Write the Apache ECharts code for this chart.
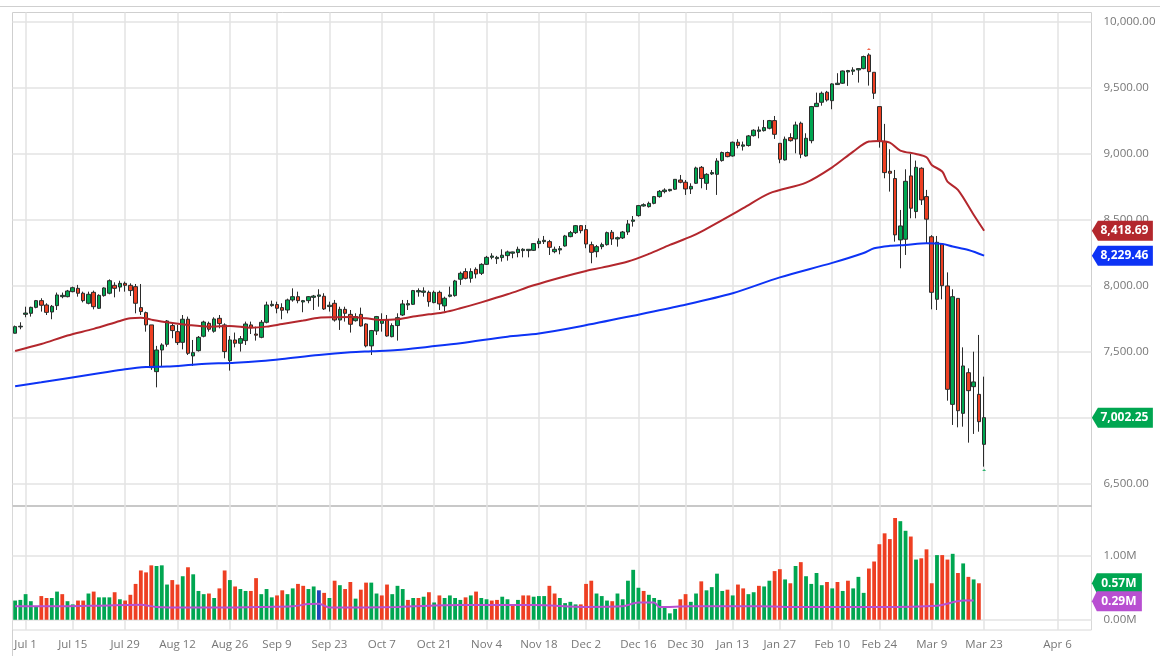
<!DOCTYPE html>
<html>
<head>
<meta charset="utf-8">
<style>html,body{margin:0;padding:0;background:#fff}#container{width:1160px;height:664px}</style>
<script src="https://cdn.jsdelivr.net/npm/echarts@6/dist/echarts.min.js"></script>
</head>
<body>
<div id="container"></div>
<script>
var tickLabels = ["Jul 1", "Jul 15", "Jul 29", "Aug 12", "Aug 26", "Sep 9", "Sep 23", "Oct 7", "Oct 21", "Nov 4", "Nov 18", "Dec 2", "Dec 16", "Dec 30", "Jan 13", "Jan 27", "Feb 10", "Feb 24", "Mar 9", "Mar 23", "Apr 6"];
var holidays = ["2019-07-04", "2019-09-02", "2019-11-28", "2019-12-25", "2020-01-01", "2020-01-20", "2020-02-17"];
var priceTicks = [6500, 7000, 7500, 8000, 8500, 9000, 9500, 10000];
var volumeTicks = [0, 1];

var candleOpen = [
  7642, 7690, 7785, 7793, 7838, 7889, 7856, 7803, 7851, 7919,
  7919, 7957, 7982, 7945, 7869, 7952, 7831, 7927, 7945, 8005,
  7992, 8020, 8005, 7995, 7836, 7798, 7705, 7351, 7515, 7558,
  7700, 7654, 7573, 7748, 7470, 7510, 7619, 7717, 7657, 7755,
  7705, 7434, 7591, 7566, 7586, 7705, 7636, 7611, 7725, 7851,
  7859, 7836, 7818, 7894, 7919, 7879, 7889, 7914, 7922, 7922,
  7844, 7869, 7742, 7823, 7785, 7737, 7785, 7712, 7546, 7659,
  7717, 7742, 7616, 7700, 7780, 7856, 7861, 7955, 7952, 7952,
  7874, 7952, 7849, 7922, 7927, 8051, 8109, 8058, 8126, 8096,
  8164, 8217, 8207, 8215, 8230, 8248, 8253, 8268, 8268, 8270,
  8321, 8336, 8336, 8260, 8273, 8303, 8374, 8404, 8457, 8427,
  8313, 8260, 8298, 8313, 8407, 8356, 8364, 8409, 8490, 8533,
  8606, 8601, 8626, 8677, 8715, 8722, 8733, 8803, 8786, 8735,
  8778, 8899, 8778, 8849, 8846, 8950, 9011, 8985, 9089, 9059,
  9064, 9139, 9172, 9177, 9195, 9253, 9081, 8955, 9124, 9114,
  9233, 8985, 9101, 9359, 9392, 9468, 9404, 9526, 9536, 9622,
  9627, 9637, 9647, 9750, 9619, 9359, 9094, 8869, 8814, 8349,
  8354, 8834, 8564, 8892, 8677, 8373, 7899, 8318, 8000, 7103,
  7906, 7035, 7343, 7237, 7179, 6800
];
var candleClose = [
  7692, 7695, 7795, 7838, 7889, 7854, 7800, 7846, 7932, 7929,
  7962, 7987, 7945, 7889, 7937, 7843, 7929, 7985, 8040, 7982,
  8020, 8005, 7965, 7869, 7806, 7705, 7381, 7515, 7553, 7735,
  7662, 7571, 7748, 7490, 7495, 7611, 7727, 7672, 7750, 7715,
  7503, 7591, 7566, 7601, 7712, 7684, 7627, 7725, 7856, 7861,
  7831, 7816, 7894, 7919, 7889, 7889, 7919, 7924, 7932, 7826,
  7854, 7742, 7823, 7793, 7710, 7768, 7697, 7546, 7662, 7768,
  7742, 7621, 7700, 7760, 7864, 7866, 7965, 7965, 7962, 7881,
  7952, 7864, 7907, 7932, 8038, 8096, 8058, 8109, 8091, 8164,
  8217, 8227, 8217, 8233, 8258, 8258, 8278, 8278, 8278, 8321,
  8339, 8346, 8293, 8278, 8283, 8379, 8404, 8457, 8419, 8318,
  8255, 8298, 8313, 8404, 8356, 8366, 8409, 8470, 8500, 8609,
  8616, 8626, 8677, 8717, 8727, 8732, 8808, 8786, 8735, 8755,
  8894, 8814, 8846, 8859, 8947, 9011, 8980, 9089, 9064, 9069,
  9137, 9180, 9182, 9200, 9253, 9149, 8960, 9112, 9101, 9220,
  8998, 9119, 9359, 9384, 9460, 9409, 9531, 9536, 9629, 9632,
  9637, 9647, 9738, 9624, 9460, 9094, 8859, 8854, 8387, 8455,
  8793, 8589, 8899, 8652, 8506, 7952, 8331, 8002, 7217, 7919,
  7055, 7394, 7207, 7273, 6972, 7002.25
];
var candleLow = [
  7640, 7672, 7763, 7768, 7831, 7806, 7780, 7748, 7818, 7907,
  7914, 7952, 7919, 7876, 7861, 7823, 7826, 7919, 7937, 7914,
  7957, 7957, 7924, 7793, 7780, 7654, 7364, 7232, 7389, 7540,
  7604, 7553, 7520, 7477, 7394, 7503, 7611, 7654, 7646, 7679,
  7452, 7359, 7535, 7503, 7553, 7636, 7586, 7604, 7717, 7843,
  7793, 7748, 7793, 7881, 7869, 7801, 7869, 7818, 7843, 7818,
  7806, 7730, 7667, 7730, 7647, 7730, 7692, 7535, 7477, 7629,
  7654, 7616, 7611, 7586, 7773, 7818, 7856, 7919, 7919, 7843,
  7869, 7818, 7806, 7914, 7919, 8008, 8050, 8025, 8058, 8083,
  8159, 8202, 8167, 8185, 8192, 8210, 8217, 8217, 8217, 8265,
  8286, 8318, 8235, 8248, 8240, 8298, 8369, 8394, 8399, 8286,
  8172, 8217, 8278, 8306, 8311, 8298, 8356, 8387, 8450, 8525,
  8601, 8594, 8619, 8669, 8702, 8715, 8727, 8778, 8690, 8697,
  8773, 8740, 8728, 8841, 8690, 8942, 8975, 8980, 9043, 9026,
  9056, 9132, 9119, 9170, 9187, 9114, 8930, 8950, 9094, 9005,
  8968, 8980, 9081, 9359, 9366, 9397, 9339, 9523, 9531, 9516,
  9599, 9541, 9642, 9518, 9417, 9048, 8816, 8715, 8336, 8134,
  8235, 8513, 8513, 8614, 8324, 7823, 7818, 7899, 7131, 6947,
  6929, 6934, 6813, 6879, 6896, 6631
];
var candleHigh = [
  7700, 7725, 7843, 7843, 7894, 7907, 7869, 7856, 7950, 7950,
  7970, 7995, 8008, 7957, 7957, 7965, 7937, 7990, 8050, 8028,
  8040, 8033, 8020, 8015, 8015, 7806, 7705, 7546, 7566, 7742,
  7717, 7705, 7780, 7768, 7591, 7621, 7737, 7730, 7763, 7780,
  7717, 7621, 7647, 7621, 7730, 7730, 7692, 7742, 7881, 7889,
  7881, 7869, 7904, 7982, 7957, 7894, 7924, 7932, 7975, 7945,
  7881, 7894, 7843, 7843, 7818, 7793, 7836, 7717, 7667, 7773,
  7793, 7780, 7717, 7793, 7894, 7894, 7970, 7982, 7990, 7965,
  7965, 7965, 7919, 7995, 8046, 8109, 8134, 8134, 8141, 8172,
  8228, 8248, 8228, 8278, 8268, 8260, 8298, 8286, 8278, 8323,
  8361, 8379, 8349, 8298, 8303, 8387, 8417, 8462, 8462, 8462,
  8336, 8311, 8328, 8412, 8424, 8374, 8417, 8500, 8530, 8614,
  8626, 8639, 8682, 8727, 8740, 8735, 8808, 8841, 8803, 8778,
  8904, 8909, 8854, 8879, 8968, 9018, 9018, 9094, 9112, 9094,
  9144, 9187, 9208, 9258, 9258, 9288, 9081, 9132, 9157, 9245,
  9245, 9157, 9364, 9465, 9473, 9478, 9536, 9612, 9632, 9637,
  9657, 9649, 9745, 9763, 9619, 9359, 9228, 9036, 8879, 8576,
  8884, 9000, 8950, 8899, 8728, 8385, 8379, 8323, 8103, 7975,
  7906, 7535, 7376, 7502, 7629, 7313
];

var volumeValues = [
  0.30, 0.31, 0.40, 0.29, 0.20, 0.37, 0.34, 0.34, 0.44, 0.40,
  0.29, 0.24, 0.30, 0.30, 0.41, 0.44, 0.35, 0.35, 0.35, 0.43,
  0.32, 0.30, 0.39, 0.56, 0.77, 0.74, 0.85, 0.84, 0.85, 0.55,
  0.62, 0.55, 0.68, 0.82, 0.71, 0.45, 0.40, 0.41, 0.34, 0.49,
  0.77, 0.62, 0.52, 0.48, 0.45, 0.45, 0.65, 0.40, 0.48, 0.35,
  0.38, 0.46, 0.40, 0.49, 0.56, 0.53, 0.48, 0.52, 0.46, 0.42,
  0.34, 0.61, 0.54, 0.48, 0.59, 0.33, 0.47, 0.58, 0.58, 0.41,
  0.38, 0.55, 0.40, 0.53, 0.48, 0.31, 0.34, 0.34, 0.36, 0.43,
  0.27, 0.38, 0.34, 0.38, 0.34, 0.31, 0.35, 0.38, 0.44, 0.34,
  0.32, 0.30, 0.31, 0.36, 0.32, 0.23, 0.31, 0.38, 0.38, 0.36,
  0.37, 0.37, 0.53, 0.41, 0.34, 0.26, 0.28, 0.24, 0.24, 0.56,
  0.61, 0.41, 0.37, 0.30, 0.29, 0.41, 0.32, 0.61, 0.78, 0.50,
  0.45, 0.39, 0.34, 0.31, 0.19, 0.10, 0.17, 0.32, 0.40, 0.28,
  0.41, 0.60, 0.46, 0.51, 0.72, 0.45, 0.47, 0.38, 0.55, 0.49,
  0.40, 0.43, 0.53, 0.52, 0.61, 0.76, 0.79, 0.63, 0.57, 0.84,
  0.90, 0.68, 0.56, 0.73, 0.54, 0.59, 0.49, 0.59, 0.45, 0.61,
  0.49, 0.67, 0.42, 0.80, 0.91, 1.18, 1.35, 1.26, 1.59, 1.54,
  1.39, 1.30, 0.94, 0.96, 1.10, 0.57, 1.01, 1.01, 0.94, 1.03,
  0.73, 0.88, 0.67, 0.63, 0.57
];
// g = up volume, r = down volume, b = the one blue bar
var volumeSides = [
  "gggggrrggr", "ggrrgrgggr", "grrrrrrggg", "rrgrgggrgr", "rgrggrrggg",
  "rrggrrggbr", "grgrrgrrgg", "rrgggrgrgr", "grggggrgrg", "grrggrgrrg",
  "ggrrggggrr", "rgggrggggg", "rggggggrrg", "grggggrgrr", "ggrggrrgrg",
  "rggggrgrgr", "gggrrrrrrg", "grgrrrgrrg", "rgrgr"
].join("");

var redMaDays = [0, 5, 10, 15, 20, 22, 24, 26, 29, 33, 37, 41, 45, 48, 51, 55, 58, 61, 64, 67, 70, 73, 76, 79, 82, 85, 89, 94, 99, 104, 109, 112, 117, 121, 125, 129, 131, 139, 144, 151, 156, 160, 163, 165, 167, 169, 172, 174, 175, 177, 178, 180, 183, 185];
var redMaValues = [7508, 7560, 7625, 7675, 7735, 7755, 7760, 7745, 7725, 7705, 7692, 7697, 7684, 7692, 7712, 7738, 7760, 7763, 7765, 7755, 7742, 7748, 7768, 7785, 7801, 7831, 7876, 7937, 8005, 8063, 8114, 8139, 8185, 8243, 8311, 8374, 8412, 8589, 8702, 8783, 8899, 9018, 9094, 9099, 9086, 9026, 9000, 8975, 8917, 8867, 8791, 8728, 8540, 8418.69];
var blueMaDays = [0, 5, 10, 16, 21, 25, 29, 35, 42, 47, 51, 58, 64, 68, 73, 79, 85, 94, 100, 108, 118, 127, 137, 146, 156, 162, 164, 167, 170, 174, 177, 179, 182, 185];
var blueMaValues = [7240, 7270, 7301, 7338, 7369, 7386, 7389, 7407, 7419, 7432, 7447, 7477, 7497, 7505, 7515, 7540, 7566, 7616, 7640, 7695, 7775, 7850, 7945, 8065, 8175, 8250, 8286, 8304, 8311, 8324, 8319, 8299, 8272, 8229.46];
var volumeMaDays = [0, 9, 16, 24, 27, 33, 39, 48, 53, 56, 58, 60, 73, 85, 99, 109, 116, 119, 122, 123, 129, 142, 150, 164, 176, 181, 183];
var volumeMaValues = [0.21, 0.21, 0.22, 0.235, 0.20, 0.19, 0.19, 0.20, 0.21, 0.245, 0.25, 0.19, 0.20, 0.23, 0.23, 0.20, 0.21, 0.27, 0.27, 0.20, 0.21, 0.21, 0.20, 0.20, 0.22, 0.30, 0.30];

var swingHigh = [163, 9795];
var swingLow = [185, 6606];

var lastPrice = 7002.25;
var lastRedMa = 8418.69;
var lastBlueMa = 8229.46;
var lastVolume = 0.57;
var lastVolumeMa = 0.29;

var GREEN = "#00a651";
var RED = "#ee3f22";

// trading days up to Mar 23, plain calendar days after it
function buildCategories() {
  var names = ["Jan", "Feb", "Mar", "Apr", "May", "Jun", "Jul", "Aug", "Sep", "Oct", "Nov", "Dec"];
  var out = [];
  var t = Date.UTC(2019, 5, 27);
  while (out.length < 206) {
    var d = new Date(t);
    var iso = d.toISOString().slice(0, 10);
    var future = out.length > 185;
    var wd = d.getUTCDay();
    if (future || (wd !== 0 && wd !== 6 && holidays.indexOf(iso) < 0)) {
      out.push(names[d.getUTCMonth()] + " " + d.getUTCDate());
    }
    t += 86400000;
  }
  return out;
}
var categories = buildCategories();

function isTick(index, value) {
  return tickLabels.indexOf(value) >= 0;
}
function pairs(days, values) {
  return days.map(function (d, i) { return [d, values[i]]; });
}
function money(v) {
  return v.toLocaleString("en-US", { minimumFractionDigits: 2, maximumFractionDigits: 2 });
}
function tag(value, color, text, width) {
  return {
    coord: [205, value],
    symbol: "path://M6,0 L61,0 L61,20 L6,20 L0,10 Z",
    symbolSize: [width, 20],
    symbolOffset: [3 + width / 2, 0],
    itemStyle: { color: color },
    label: {
      show: true, position: "inside", formatter: text, color: "#fff",
      fontFamily: "Open Sans", fontSize: 12, fontWeight: "bold", offset: [2, 0]
    }
  };
}

var gridLine = { show: true, lineStyle: { color: "#e3e3e3", width: 1.5 } };
var vLine = { show: true, interval: isTick, alignWithLabel: true, lineStyle: { color: "#e3e3e3", width: 1.5 } };
var axisText = { color: "#777", fontFamily: "Open Sans", fontSize: 11.5 };

var dom = document.getElementById("container");
var myChart = echarts.init(dom);
var option = {
  animation: false,
  grid: [
    { left: 12.5, width: 1079, top: 12.5, height: 493.5, show: true, borderColor: "#cfcfcf", borderWidth: 1, backgroundColor: "#fff" },
    { left: 12.5, width: 1079, top: 506, height: 124, show: true, borderColor: "#d8d8d8", borderWidth: 1, backgroundColor: "#fff" }
  ],
  xAxis: [
    {
      type: "category", gridIndex: 0, data: categories,
      axisLine: { show: false }, axisTick: { show: false }, axisLabel: { show: false }, splitLine: vLine
    },
    {
      type: "category", gridIndex: 1, data: categories,
      axisLine: { show: false }, axisTick: { show: false }, splitLine: vLine,
      axisLabel: Object.assign({ interval: isTick, margin: 9, hideOverlap: false }, axisText)
    }
  ],
  yAxis: [
    {
      type: "value", gridIndex: 0, position: "right", min: 6333, max: 10072,
      axisLine: { show: false }, axisTick: { show: false, customValues: priceTicks }, splitLine: gridLine,
      axisLabel: Object.assign({ margin: 12, customValues: priceTicks, formatter: money }, axisText)
    },
    {
      type: "value", gridIndex: 1, position: "right", min: -0.16, max: 1.777,
      axisLine: { show: false }, axisTick: { show: false, customValues: volumeTicks }, splitLine: gridLine,
      axisLabel: Object.assign({
        margin: 12, customValues: volumeTicks,
        formatter: function (v) { return v.toFixed(2) + "M"; }
      }, axisText)
    }
  ],
  series: [
    {
      type: "candlestick", name: "Price", barWidth: 4,
      data: candleOpen.map(function (o, i) { return [o, candleClose[i], candleLow[i], candleHigh[i]]; }),
      itemStyle: { color: GREEN, color0: RED, borderColor: "#2b2b2b", borderColor0: "#2b2b2b", borderWidth: 1 },
      markPoint: {
        silent: true, animation: false,
        data: [tag(lastPrice, GREEN, money(lastPrice), 61)]
      }
    },
    {
      type: "line", name: "MA 50", data: pairs(redMaDays, redMaValues), smooth: 0.3, showSymbol: false,
      lineStyle: { color: "#b3272d", width: 2 },
      markPoint: {
        silent: true, animation: false,
        data: [tag(lastRedMa, "#b3272d", money(lastRedMa), 61)]
      }
    },
    {
      type: "line", name: "MA 200", data: pairs(blueMaDays, blueMaValues), smooth: 0.3, showSymbol: false,
      lineStyle: { color: "#0d33f5", width: 2 },
      markPoint: {
        silent: true, animation: false,
        data: [tag(lastBlueMa, "#0d33f5", money(lastBlueMa), 61)]
      }
    },
    {
      type: "scatter", name: "Swings", symbol: "triangle", symbolSize: [4, 2],
      data: [
        { value: swingHigh, itemStyle: { color: RED } },
        { value: swingLow, itemStyle: { color: GREEN } }
      ]
    },
    {
      type: "bar", name: "Volume", xAxisIndex: 1, yAxisIndex: 1, barWidth: 3.8,
      data: volumeValues.map(function (v, i) {
        var side = volumeSides.charAt(i);
        return { value: v, itemStyle: { color: side === "g" ? GREEN : side === "b" ? "#2244bb" : RED } };
      }),
      markPoint: {
        silent: true, animation: false,
        data: [tag(lastVolume, GREEN, lastVolume.toFixed(2) + "M", 50)]
      }
    },
    {
      type: "line", name: "Volume MA", xAxisIndex: 1, yAxisIndex: 1, data: pairs(volumeMaDays, volumeMaValues),
      smooth: 0.3, showSymbol: false, lineStyle: { color: "#b84fd1", width: 2 },
      markPoint: {
        silent: true, animation: false,
        data: [tag(lastVolumeMa, "#b84fd1", lastVolumeMa.toFixed(2) + "M", 50)]
      }
    }
  ],
  graphic: [
    { type: "line", silent: true, shape: { x1: 0, y1: 6.5, x2: 1160, y2: 6.5 }, style: { stroke: "#cfcfcf", lineWidth: 1 } },
    { type: "line", silent: true, shape: { x1: 12.5, y1: 506, x2: 1092, y2: 506 }, style: { stroke: "#c8c8c8", lineWidth: 2 } },
    { type: "line", silent: true, shape: { x1: 12.5, y1: 630, x2: 12.5, y2: 656 }, style: { stroke: "#cfcfcf", lineWidth: 1 } }
  ]
};
myChart.setOption(option, true);
</script>
</body>
</html>
